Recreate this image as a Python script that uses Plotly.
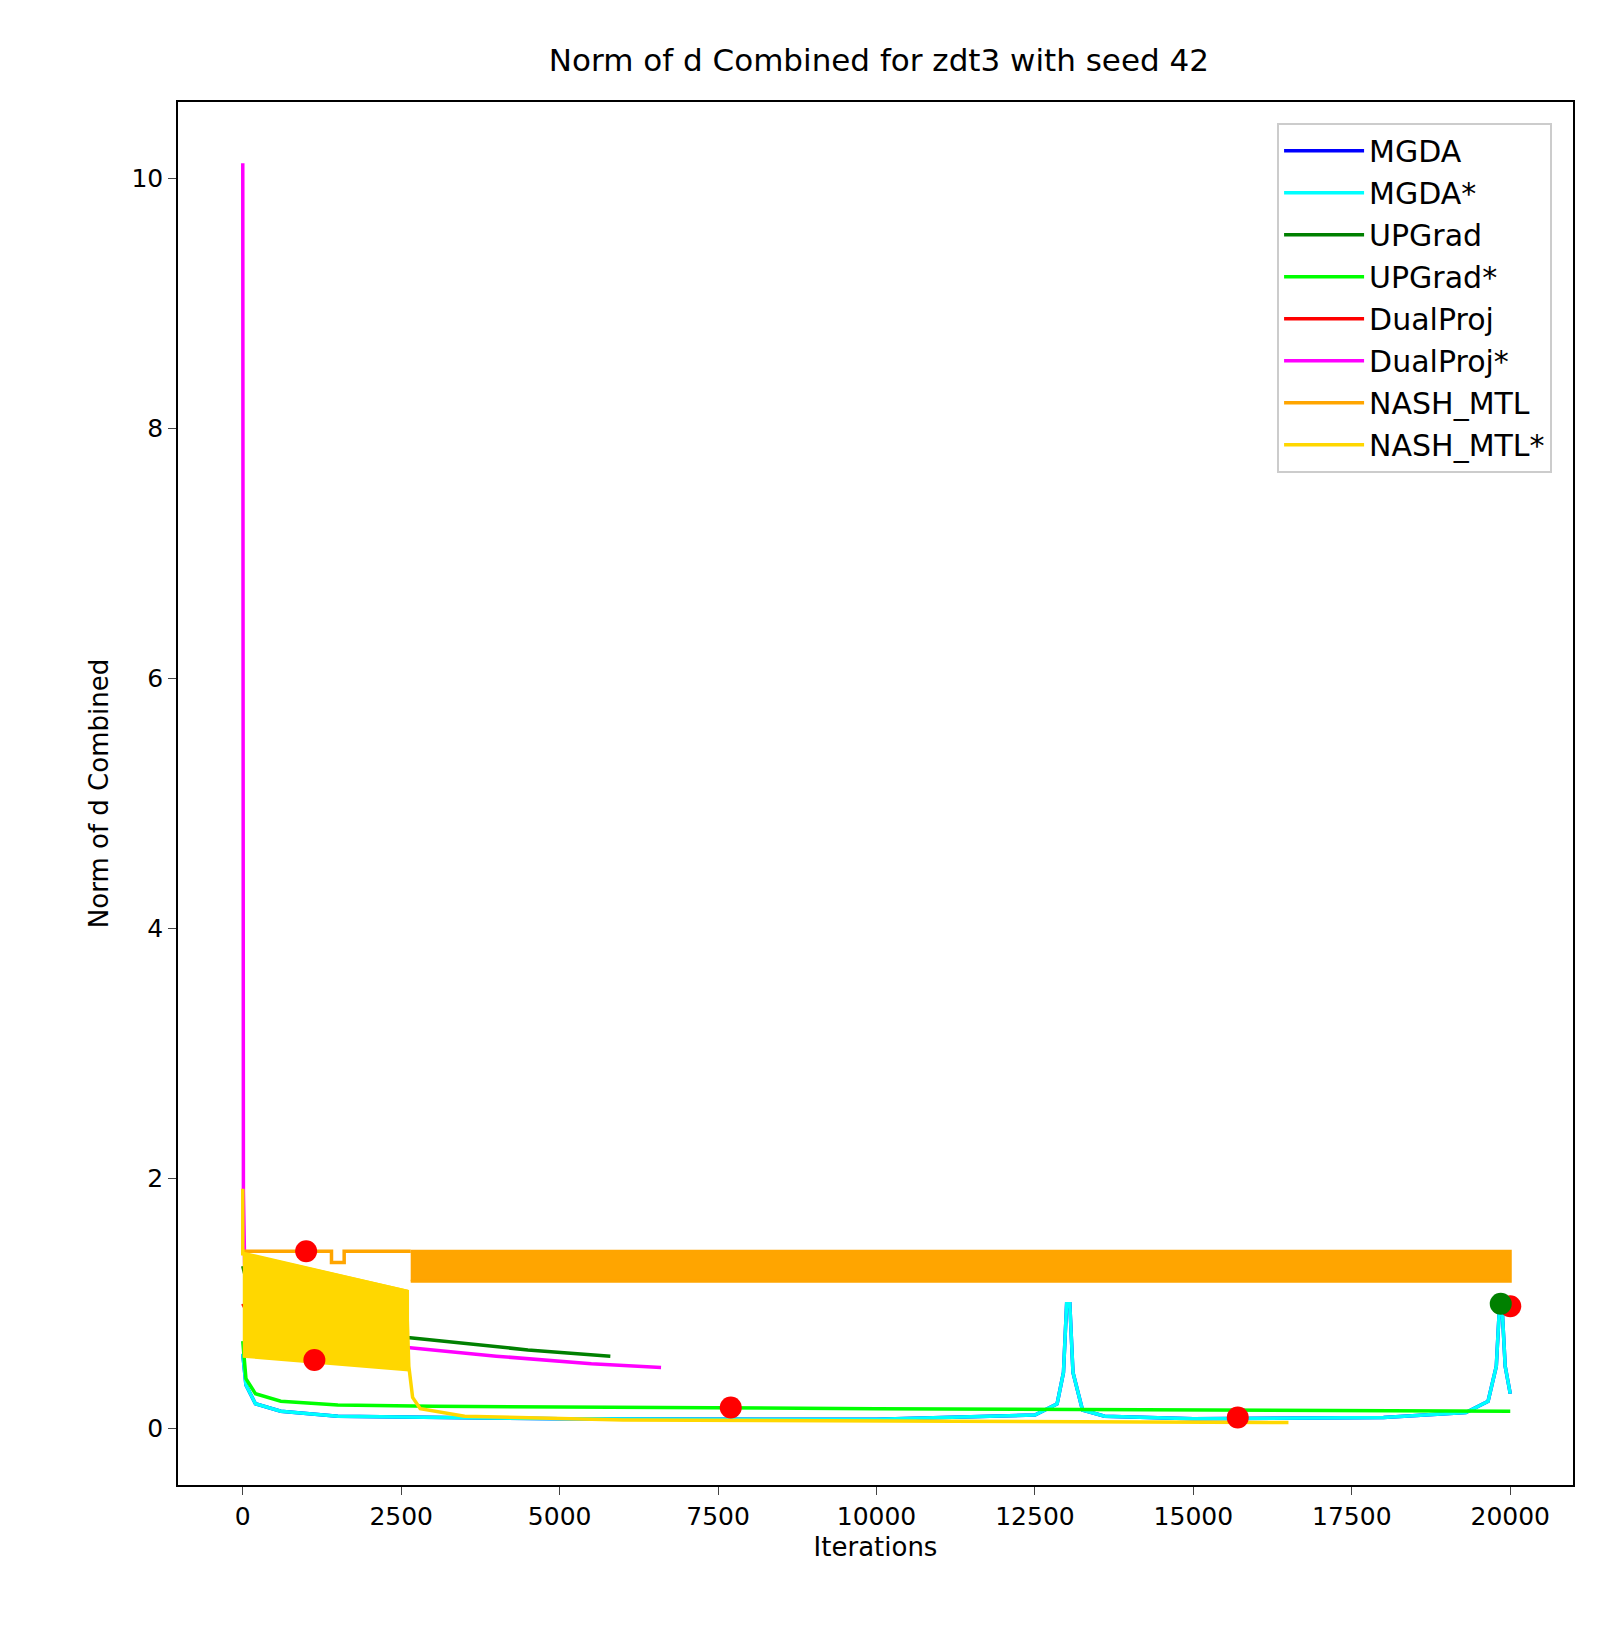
import plotly.graph_objects as go

mgda_x = [0, 50, 200, 600, 1500, 5000, 10000, 12500, 12850, 12950, 13000, 13050, 13100, 13250, 13600, 15000, 18000, 19300, 19650, 19780, 19830, 19870, 19920, 20000]
mgda_y = [0.6, 0.35, 0.2, 0.14, 0.1, 0.08, 0.075, 0.11, 0.2, 0.45, 1.0, 1.0, 0.45, 0.15, 0.1, 0.08, 0.09, 0.13, 0.22, 0.5, 0.98, 0.98, 0.5, 0.28]
upg_x = [0, 100, 400, 1000, 2600, 3500, 4500, 5800]
upg_y = [1.3, 1.1, 1.0, 0.9, 0.73, 0.68, 0.63, 0.58]
upgs_x = [0, 50, 200, 600, 1500, 3000, 10000, 20000]
upgs_y = [0.7, 0.4, 0.28, 0.22, 0.19, 0.18, 0.16, 0.14]
dps_x = [0, 10, 30, 100, 600, 2600, 4000, 5500, 6600]
dps_y = [10.12, 1.9, 1.3, 1.0, 0.8, 0.65, 0.58, 0.52, 0.49]
dp_x = [0, 100, 1000, 2600]
dp_y = [1.0, 0.9, 0.8, 0.7]
nash_x = [2650, 20000]
nash_top = [1.42, 1.42]
nash_bot = [1.18, 1.18]
nash_line_x = [0, 1400, 1400, 1600, 1600, 2650]
nash_line_y = [1.42, 1.42, 1.33, 1.33, 1.42, 1.42]
nashs_bx = [0, 2600]
nashs_top = [1.40, 1.1]
nashs_bot = [0.58, 0.47]
nashs_x = [0, 0, 30, 2580, 2620, 2680, 2800, 3500, 6000, 10000, 16500]
nashs_y = [1.92, 1.40, 1.40, 1.1, 0.5, 0.25, 0.16, 0.1, 0.07, 0.06, 0.05]
dot_red_x = [1000, 1130, 7700, 15700, 20000]
dot_red_y = [1.42, 0.55, 0.17, 0.09, 0.98]
dot_green_x = [19850]
dot_green_y = [1.0]
xticks = [0, 2500, 5000, 7500, 10000, 12500, 15000, 17500, 20000]

fig = go.Figure()
def line(x, y, c, name, show=True, w=3.5):
    fig.add_trace(go.Scatter(x=x, y=y, mode="lines", line=dict(color=c, width=w), name=name, showlegend=show))

line(mgda_x, mgda_y, "blue", "MGDA")
line(mgda_x, mgda_y, "cyan", "MGDA*")
line(upg_x, upg_y, "green", "UPGrad")
line(upgs_x, upgs_y, "lime", "UPGrad*")
line(dp_x, dp_y, "red", "DualProj")
line(dps_x, dps_y, "magenta", "DualProj*")
fig.add_trace(go.Scatter(x=nash_x + nash_x[::-1], y=nash_top + nash_bot[::-1], fill="toself",
                         fillcolor="orange", line=dict(color="orange", width=3), mode="lines", showlegend=False))
line(nash_line_x, nash_line_y, "orange", "NASH_MTL")
fig.add_trace(go.Scatter(x=nashs_bx + nashs_bx[::-1], y=nashs_top + nashs_bot[::-1], fill="toself",
                         fillcolor="gold", line=dict(color="gold", width=3), mode="lines", showlegend=False))
line(nashs_x, nashs_y, "gold", "NASH_MTL*")
fig.add_trace(go.Scatter(x=dot_red_x, y=dot_red_y, mode="markers", marker=dict(color="red", size=22), showlegend=False))
fig.add_trace(go.Scatter(x=dot_green_x, y=dot_green_y, mode="markers", marker=dict(color="green", size=22), showlegend=False))

fig.update_layout(
    width=1598, height=1638, plot_bgcolor="white", paper_bgcolor="white",
    font=dict(family="DejaVu Sans", size=25, color="black"),
    margin=dict(l=170, r=33, t=94, b=161),
    title=dict(text="Norm of d Combined for zdt3 with seed 42", x=0.545, xanchor="center", y=0.975, font=dict(size=31)),
    xaxis=dict(title=dict(text="Iterations", font=dict(size=26), standoff=8), range=[-1022, 20990],
               tickvals=xticks, ticktext=[str(v) for v in xticks],
               showgrid=False, zeroline=False, showline=True, linecolor="black", linewidth=1.5, mirror=True, ticks="outside", ticklen=8),
    yaxis=dict(title=dict(text="Norm of d Combined", font=dict(size=26)), range=[-0.45, 10.61], tickvals=[0, 2, 4, 6, 8, 10],
               showgrid=False, zeroline=False, showline=True, linecolor="black", linewidth=1.5, mirror=True, ticks="outside", ticklen=8),
    legend=dict(x=0.985, y=0.985, xanchor="right", yanchor="top", bordercolor="#ccc", borderwidth=2,
                font=dict(size=30), tracegroupgap=14, itemwidth=80),
)
fig.write_html("out.html")
